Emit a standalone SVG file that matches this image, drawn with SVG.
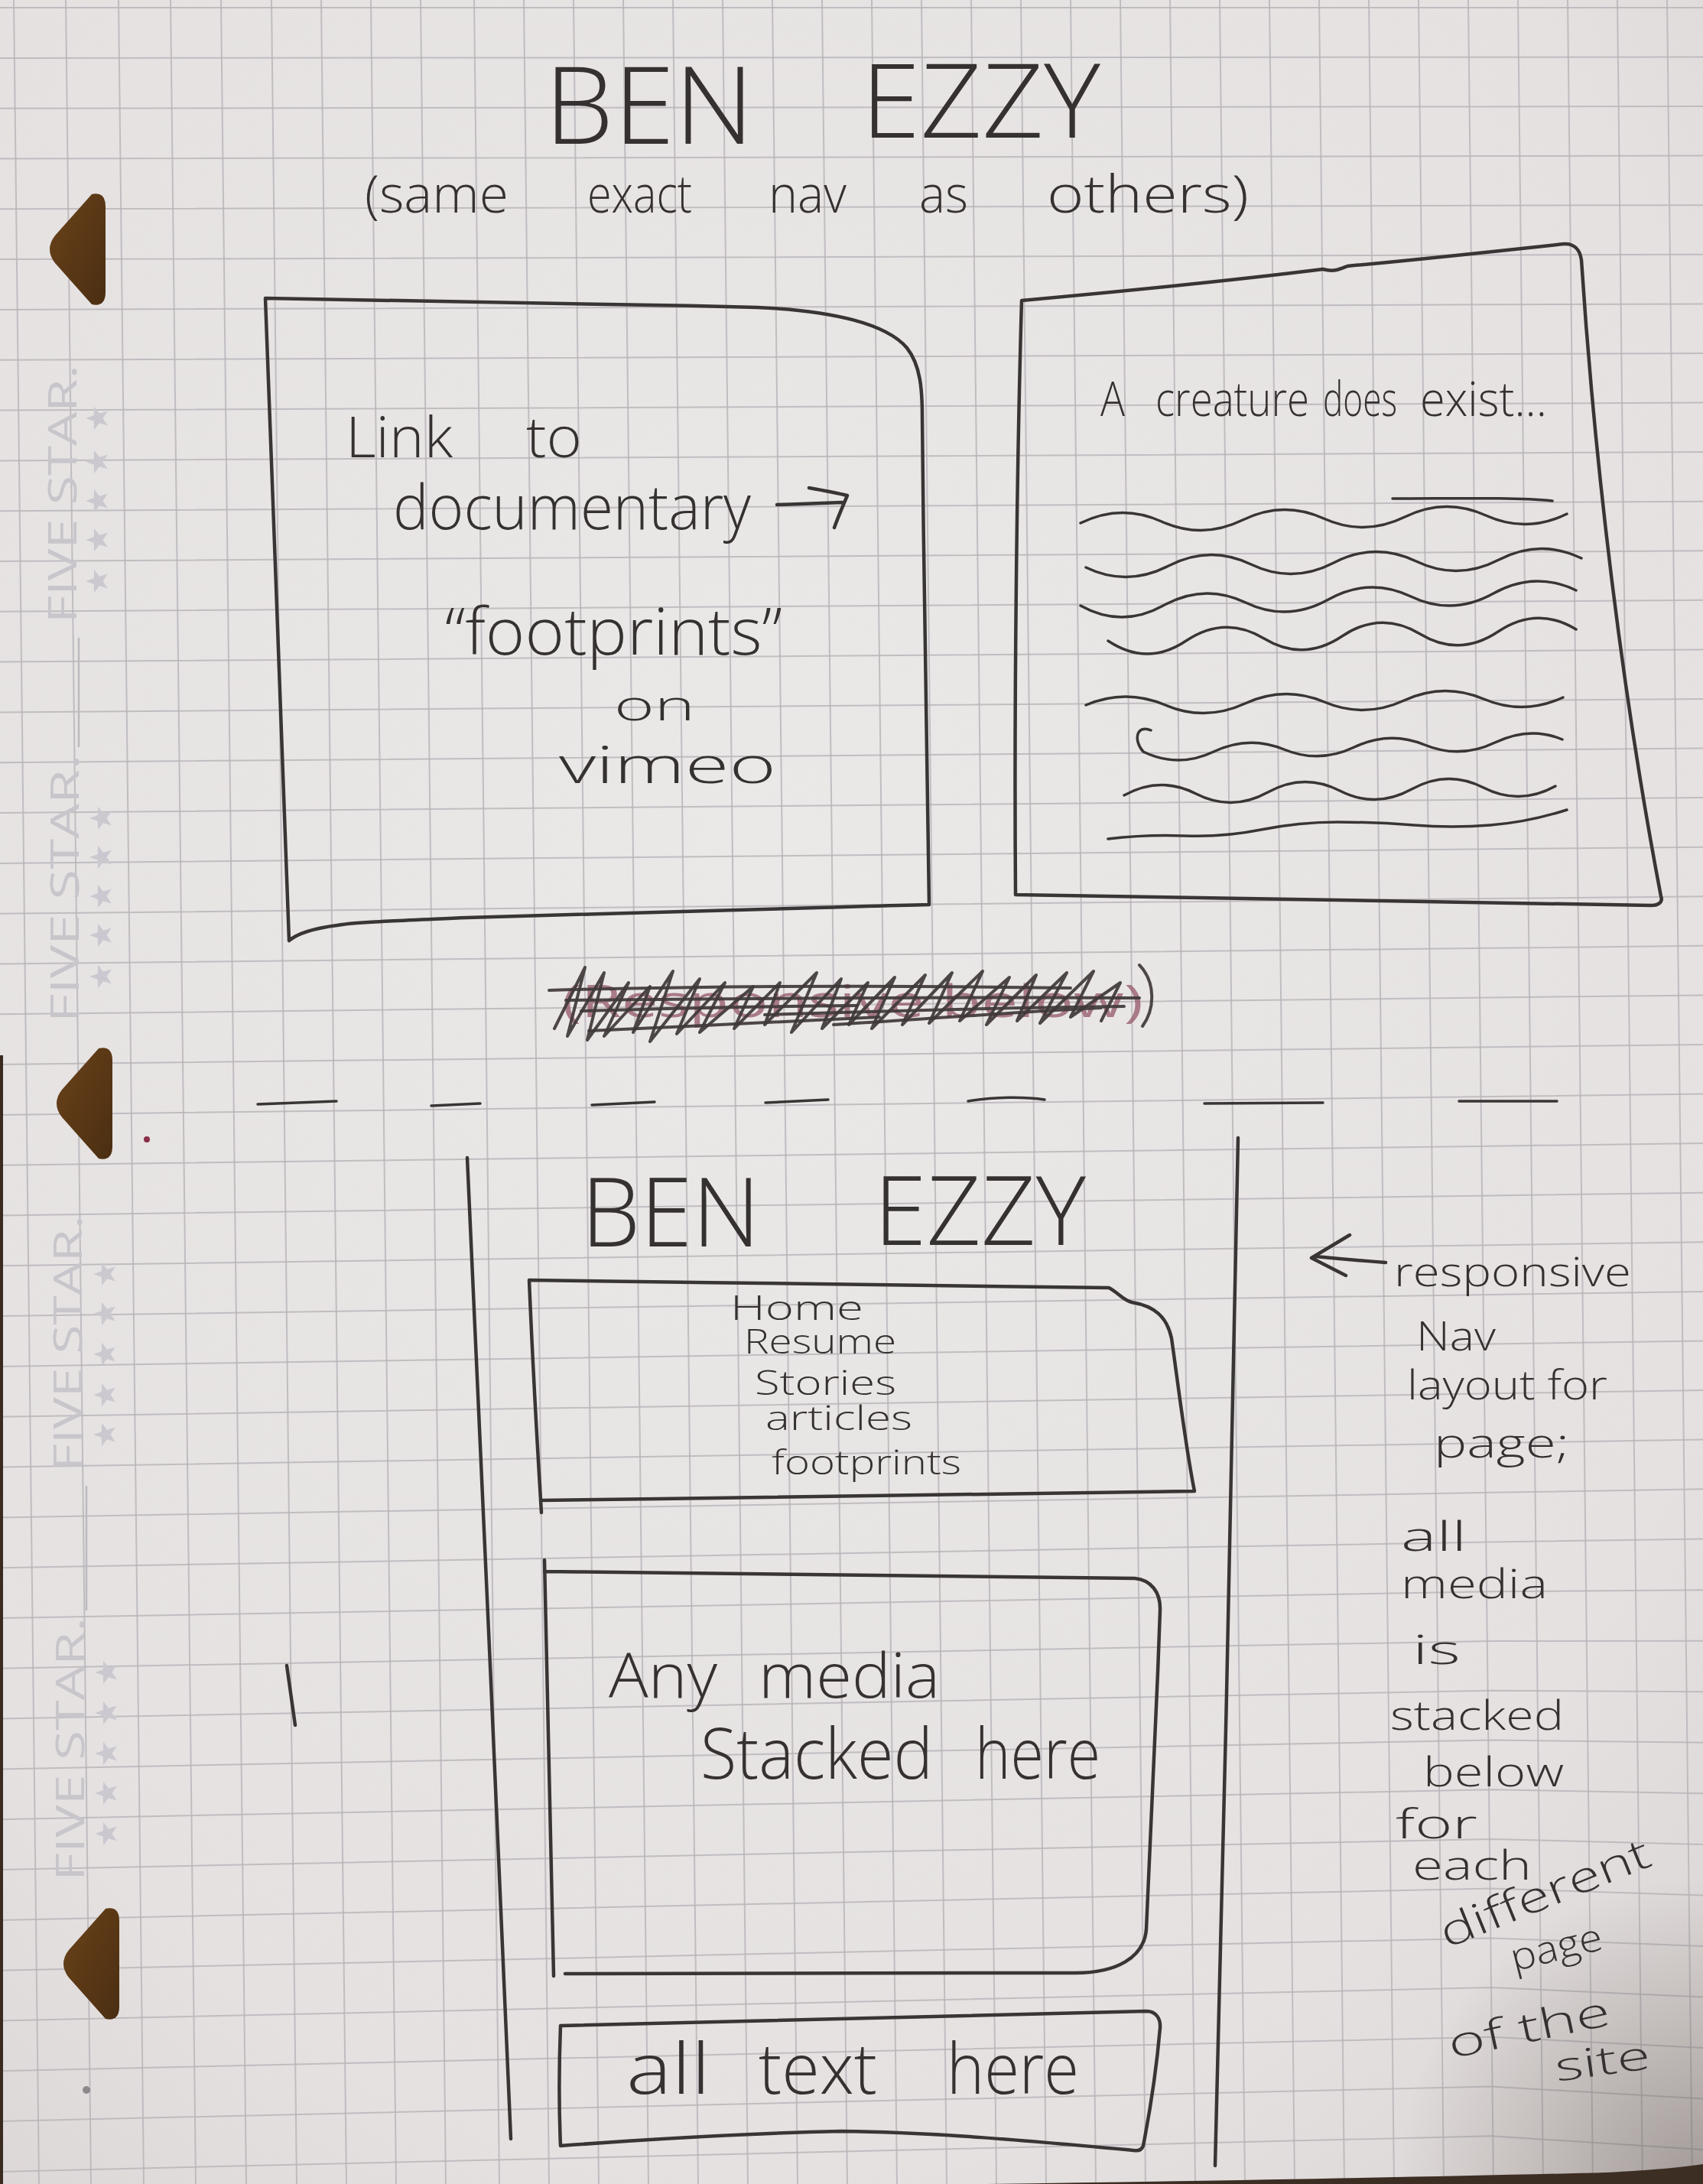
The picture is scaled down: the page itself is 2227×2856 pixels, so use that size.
<svg xmlns="http://www.w3.org/2000/svg" xmlns:xlink="http://www.w3.org/1999/xlink" width="2227" height="2856" viewBox="0 0 2227 2856">
  <defs>
    <radialGradient id="paper" cx="0.45" cy="0.4" r="0.85">
      <stop offset="0" stop-color="#ebe8e8"/>
      <stop offset="0.7" stop-color="#e5e1e1"/>
      <stop offset="1" stop-color="#d8d2d1"/>
    </radialGradient>
    <radialGradient id="cornerShade" cx="1" cy="1" r="1">
      <stop offset="0" stop-color="#3c3028" stop-opacity="0.35"/>
      <stop offset="1" stop-color="#3c3028" stop-opacity="0"/>
    </radialGradient>
    <linearGradient id="holeFill" x1="0" y1="0" x2="1" y2="1">
      <stop offset="0" stop-color="#6a4219"/>
      <stop offset="1" stop-color="#4a2e12"/>
    </linearGradient>
    <path id="hole" d="M 62 2 Q 80 -2 80 18 L 80 130 Q 80 150 62 146 L 14 92 Q 0 74 14 56 Z"/>
    <path id="star" d="M0,-16 L3.8,-5.3 L15.2,-4.9 L6.2,2 L9.4,12.9 L0,6.5 L-9.4,12.9 L-6.2,2 L-15.2,-4.9 L-3.8,-5.3 Z"/>
    <style>
      .grid { fill: none; stroke: #b7b3b8; stroke-width: 2; opacity: 0.8; }
      .ink { fill: none; stroke: #3a3535; stroke-width: 4.5; stroke-linecap: round; stroke-linejoin: round; }
      .thin { stroke-width: 3.5; }
      .hand { font-family: "Open Sans", "Lato", "DejaVu Sans", sans-serif; font-weight: 300; fill: #363131; }
      .brand { font-family: "Open Sans", "Liberation Sans", sans-serif; font-weight: 400; fill: #c8c5cb; font-size: 52px; }
      .brandstar { fill: #cbc8d0; }
      .scrib { fill: none; stroke: #3f3838; stroke-width: 4; stroke-linecap: round; stroke-linejoin: round; opacity: 0.92; }
    </style>
  </defs>

  <!-- paper and grid -->
  <rect width="2227" height="2856" fill="url(#paper)"/>
  <path class="grid" d="M 18 0 l 33 2856 M 86 0 l 33 2856 M 155 0 l 33 2856 M 223 0 l 33 2856 M 289 0 l 33 2856 M 355 0 l 33 2856 M 420 0 l 33 2856 M 485 0 l 33 2856 M 550 0 l 33 2856 M 620 0 l 33 2856 M 685 0 l 33 2856 M 750 0 l 33 2856 M 815 0 l 33 2856 M 880 0 l 33 2856 M 945 0 l 33 2856 M 1010 0 l 33 2856 M 1075 0 l 33 2856 M 1140 0 l 33 2856 M 1205 0 l 33 2856 M 1270 0 l 33 2856 M 1335 0 l 33 2856 M 1400 0 l 33 2856 M 1465 0 l 33 2856 M 1530 0 l 33 2856 M 1595 0 l 33 2856 M 1660 0 l 33 2856 M 1725 0 l 33 2856 M 1790 0 l 33 2856 M 1855 0 l 33 2856 M 1920 0 l 33 2856 M 1985 0 l 33 2856 M 2050 0 l 33 2856 M 2115 0 l 33 2856 M 2180 0 l 33 2856"/>
  <path class="grid" d="M 0 10.1 L 1950 9.9 L 2227 9.9 M 0 75.9 L 1950 74.7 L 2227 74.5 M 0 141.7 L 1950 139.4 L 2227 139.1 M 0 207.5 L 1950 204.1 L 2227 203.6 M 0 273.3 L 1950 268.8 L 2227 268.2 M 0 339.1 L 1950 333.6 L 2227 332.8 M 0 404.9 L 1950 398.3 L 2227 397.4 M 0 470.8 L 1950 463 L 2227 461.9 M 0 536.6 L 1950 527.8 L 2227 526.5 M 0 602.4 L 1950 592.5 L 2227 591.1 M 0 668.2 L 1950 657.2 L 2227 655.7 M 0 734 L 1950 721.9 L 2227 720.2 M 0 799.8 L 1950 786.7 L 2227 784.8 M 0 865.6 L 1950 851.4 L 2227 849.4 M 0 931.4 L 1950 916.1 L 2227 914 M 0 997.2 L 1950 980.9 L 2227 978.5 M 0 1063 L 1950 1045.6 L 2227 1043.1 M 0 1128.9 L 1950 1110.3 L 2227 1107.7 M 0 1194.7 L 1950 1175.1 L 2227 1172.3 M 0 1260.5 L 1950 1239.8 L 2227 1236.8 M 0 1326.3 L 1950 1304.5 L 2227 1301.4 M 0 1392.1 L 1950 1369.2 L 2227 1366 M 0 1457.9 L 1950 1434 L 2227 1430.6 M 0 1523.7 L 1950 1498.7 L 2227 1495.1 M 0 1589.5 L 1950 1563.4 L 2227 1559.7 M 0 1655.3 L 1950 1628.2 L 2227 1624.3 M 0 1721.1 L 1950 1692.9 L 2227 1688.9 M 0 1786.9 L 1950 1757.6 L 2227 1753.4 M 0 1852.8 L 1950 1822.3 L 2227 1818 M 0 1918.6 L 1950 1887.1 L 2227 1882.6 M 0 1984.4 L 1950 1951.8 L 2227 1947.2 M 0 2050.2 L 1950 2016.5 L 2227 2012.6 M 0 2116 L 1950 2081.3 L 2227 2079.2 M 0 2181.8 L 1950 2146 L 2227 2145.7 M 0 2247.6 L 1950 2210.7 L 2227 2212.3 M 0 2313.4 L 1950 2275.4 L 2227 2278.8 M 0 2379.2 L 1950 2340.2 L 2227 2345.3 M 0 2445 L 1950 2404.9 L 2227 2411.9 M 0 2510.9 L 1950 2469.6 L 2227 2478.4 M 0 2576.7 L 1950 2534.4 L 2227 2544.9 M 0 2642.5 L 1950 2599.1 L 2227 2611.4 M 0 2708.3 L 1950 2663.8 L 2227 2678 M 0 2774.1 L 1950 2728.5 L 2227 2744.6 M 0 2839.9 L 1950 2793.3 L 2227 2811"/>
  <rect x="1827" y="2456" width="400" height="400" fill="url(#cornerShade)"/>
  <rect x="0" y="1380" width="4" height="1476" fill="#3a2a20"/>
  <path d="M 1290 2856 C 1600 2852 1900 2846 2100 2841 C 2160 2838 2200 2834 2227 2830 L 2227 2856 Z" fill="#3d2e24"/>

  <!-- binder holes -->
  <g id="holes" fill="url(#holeFill)">
    <use href="#hole" transform="translate(58,252)"/>
    <use href="#hole" transform="translate(67,1369)"/>
    <use href="#hole" transform="translate(76,2494)"/>
  </g>

  <!-- printed margin brand -->
  <g id="margin-brand">
    <text class="brand" transform="translate(100,815) rotate(-90)" textLength="338" lengthAdjust="spacingAndGlyphs">FIVE STAR.</text>
    <text class="brand" transform="translate(103,1337) rotate(-90)" textLength="350" lengthAdjust="spacingAndGlyphs">FIVE STAR.</text>
    <text class="brand" transform="translate(107,1924) rotate(-90)" textLength="335" lengthAdjust="spacingAndGlyphs">FIVE STAR.</text>
    <text class="brand" transform="translate(110,2460) rotate(-90)" textLength="345" lengthAdjust="spacingAndGlyphs">FIVE STAR.</text>
    <g class="brandstar">
      <use href="#star" transform="translate(128,547) rotate(-90)"/>
      <use href="#star" transform="translate(128,604) rotate(-90)"/>
      <use href="#star" transform="translate(128,655) rotate(-90)"/>
      <use href="#star" transform="translate(128,706) rotate(-90)"/>
      <use href="#star" transform="translate(128,760) rotate(-90)"/>
      <use href="#star" transform="translate(133,1070) rotate(-90)"/>
      <use href="#star" transform="translate(133,1121) rotate(-90)"/>
      <use href="#star" transform="translate(133,1172) rotate(-90)"/>
      <use href="#star" transform="translate(133,1223) rotate(-90)"/>
      <use href="#star" transform="translate(133,1277) rotate(-90)"/>
      <use href="#star" transform="translate(138,1666) rotate(-90)"/>
      <use href="#star" transform="translate(138,1718) rotate(-90)"/>
      <use href="#star" transform="translate(138,1771) rotate(-90)"/>
      <use href="#star" transform="translate(138,1824) rotate(-90)"/>
      <use href="#star" transform="translate(138,1876) rotate(-90)"/>
      <use href="#star" transform="translate(140,2187) rotate(-90)"/>
      <use href="#star" transform="translate(140,2240) rotate(-90)"/>
      <use href="#star" transform="translate(140,2293) rotate(-90)"/>
      <use href="#star" transform="translate(140,2345) rotate(-90)"/>
      <use href="#star" transform="translate(140,2398) rotate(-90)"/>
    </g>
    <path d="M 103 834 V 977 M 113 1943 V 2106" stroke="#bdbac0" stroke-width="2.5" fill="none"/>
    <circle cx="192" cy="1490" r="4" fill="#8a3048"/>
    <circle cx="113" cy="2733" r="5" fill="#6a6468" opacity="0.7"/>
  </g>

  <!-- desktop layout -->
  <g id="title">
    <text class="hand" x="712" y="188" font-size="140" textLength="274" lengthAdjust="spacingAndGlyphs">BEN</text>
    <text class="hand" x="1126" y="180" font-size="135" textLength="313" lengthAdjust="spacingAndGlyphs">EZZY</text>
  </g>

  <g id="subtitle">
    <text class="hand" font-size="68" y="278">
      <tspan x="477" textLength="188" lengthAdjust="spacingAndGlyphs">(same</tspan>
      <tspan x="768" textLength="137" lengthAdjust="spacingAndGlyphs">exact</tspan>
      <tspan x="1005" textLength="102" lengthAdjust="spacingAndGlyphs">nav</tspan>
      <tspan x="1202" textLength="64" lengthAdjust="spacingAndGlyphs">as</tspan>
      <tspan x="1369" textLength="264" lengthAdjust="spacingAndGlyphs">others)</tspan>
    </text>
  </g>

  <g id="video-box">
    <path class="ink" d="M 347 390 C 520 394 760 396 990 402 C 1090 406 1160 424 1186 455 C 1204 478 1206 510 1206 545 C 1208 760 1212 980 1215 1183 C 1160 1184 1110 1186 1069 1187 C 900 1192 700 1196 610 1200 C 520 1204 460 1206 441 1210 C 410 1214 390 1220 378 1230 C 368 1000 358 650 347 390 Z"/>
    <text class="hand" font-size="74" y="598">
      <tspan x="452" textLength="140" lengthAdjust="spacingAndGlyphs">Link</tspan>
      <tspan x="688" textLength="73" lengthAdjust="spacingAndGlyphs">to</tspan>
    </text>
    <text class="hand" font-size="82" x="514" y="692" textLength="468" lengthAdjust="spacingAndGlyphs">documentary</text>
    <text class="hand" font-size="84" x="582" y="856" textLength="441" lengthAdjust="spacingAndGlyphs">“footprints”</text>
    <text class="hand" font-size="56" x="803" y="942" textLength="106" lengthAdjust="spacingAndGlyphs">on</text>
    <text class="hand" font-size="66" x="731" y="1024" textLength="284" lengthAdjust="spacingAndGlyphs">vimeo</text>
  </g>

  <g id="story-text-box">
    <path class="ink" d="M 1336 393 C 1500 378 1650 362 1730 352 C 1745 356 1752 352 1762 348 C 1870 338 1980 326 2045 319 C 2058 318 2066 326 2068 340 C 2085 600 2120 900 2172 1172 C 2175 1180 2168 1184 2160 1184 C 1880 1180 1600 1175 1328 1170 C 1326 900 1330 600 1336 393 Z"/>
    <text class="hand" font-size="62" y="544">
      <tspan x="1439" textLength="32" lengthAdjust="spacingAndGlyphs">A</tspan>
      <tspan x="1511" textLength="201" lengthAdjust="spacingAndGlyphs">creature</tspan>
      <tspan x="1730" textLength="97" lengthAdjust="spacingAndGlyphs">does</tspan>
      <tspan x="1857" textLength="166" lengthAdjust="spacingAndGlyphs">exist...</tspan>
    </text>
    <g class="ink thin">
      <path d="M 1821 652 C 1900 652 1980 650 2030 655"/>
      <path d="M 1413 684 q 53 -26 106 -2 t 106 -2 t 106 -2 t 106 -2 t 106 -2 t 106 -2"/>
      <path d="M 1420 742 q 54 26 108 -2 t 108 -2 t 108 -2 t 108 -2 t 108 -2 t 108 -2"/>
      <path d="M 1413 792 q 54 30 108 0 t 108 -4 t 108 -4 t 108 -4 t 108 -4 t 108 -4"/>
      <path d="M 1449 838 q 51 34 102 0 t 102 -3 t 102 -3 t 102 -3 t 102 -3 t 102 -3"/>
      <path d="M 1420 922 q 52 -22 104 0 t 104 -2 t 104 -2 t 104 -2 t 104 -2 t 104 -2"/>
      <path d="M 1505 955 c -18 -8 -24 12 -10 28 q 46 22 92 0 t 92 -3 t 92 -3 t 92 -3 t 92 -3 t 88 -4"/>
      <path d="M 1470 1040 q 47 -26 94 -2 t 94 -2 t 94 -2 t 94 -2 t 94 -2 t 94 -2"/>
      <path d="M 1449 1097 q 50 -6 100 -4 t 100 -8 t 100 -10 t 100 4 t 100 0 t 100 -20"/>
    </g>
  </g>

  <g id="struck-note">
    <text x="735" y="1330" font-family="Open Sans, Liberation Sans, sans-serif" font-size="58" fill="#9a6070" opacity="0.8" textLength="760" lengthAdjust="spacingAndGlyphs">(Responsive below)</text>
    <path class="scrib" d="M 725 1345 L 765 1265 L 742 1355 L 790 1272 L 768 1360 L 822 1285 L 790 1355 L 850 1290 L 828 1350 L 880 1270 L 850 1362 L 915 1280 L 885 1352 L 948 1285 L 915 1350 L 985 1290 L 960 1345 L 1020 1285 L 1000 1340 L 1068 1272 L 1035 1350 L 1100 1280 L 1075 1345 L 1135 1285 L 1110 1340 L 1170 1278 L 1140 1345 L 1210 1275 L 1180 1340 L 1245 1272 L 1215 1338 L 1285 1270 L 1255 1335 L 1320 1278 L 1290 1340 L 1355 1275 L 1330 1335 L 1395 1272 L 1360 1338 L 1430 1270 L 1400 1330 L 1465 1285 L 1440 1335"/>
    <path class="scrib" d="M 718 1295 C 900 1290 1150 1288 1400 1292 M 740 1308 C 1000 1306 1250 1303 1490 1305 M 1000 1327 C 1150 1322 1300 1318 1470 1316 M 770 1348 C 900 1342 1050 1335 1150 1330 M 1090 1340 C 1250 1330 1350 1322 1440 1318 M 760 1322 C 900 1318 1000 1316 1120 1315 M 1490 1262 C 1512 1285 1510 1320 1494 1342"/>
  </g>

  <!-- divider between desktop and mobile -->
  <g id="divider" class="ink thin">
    <path d="M 337 1444 L 440 1440"/>
    <path d="M 564 1446 L 628 1443"/>
    <path d="M 774 1445 L 856 1441"/>
    <path d="M 1001 1442 L 1083 1438"/>
    <path d="M 1266 1440 C 1300 1434 1340 1434 1366 1438"/>
    <path d="M 1575 1443 L 1730 1442"/>
    <path d="M 1908 1440 L 2036 1440"/>
  </g>

  <!-- mobile layout -->
  <g id="mobile-frame" class="ink">
    <path d="M 611 1514 C 630 1900 650 2400 668 2797"/>
    <path d="M 1619 1488 C 1612 1900 1600 2400 1589 2832"/>
    <path d="M 375 2178 L 386 2256"/>
  </g>

  <g id="mobile-title">
    <text class="hand" x="760" y="1630" font-size="125" textLength="234" lengthAdjust="spacingAndGlyphs">BEN</text>
    <text class="hand" x="1143" y="1628" font-size="125" textLength="277" lengthAdjust="spacingAndGlyphs">EZZY</text>
  </g>

  <g id="nav-box">
    <path class="ink" d="M 708 1978 C 702 1880 696 1770 692 1674 C 950 1678 1250 1680 1450 1684 C 1462 1690 1468 1700 1480 1703 C 1510 1708 1526 1722 1532 1750 C 1542 1820 1550 1890 1562 1950 C 1300 1954 1000 1958 708 1962"/>
    <text class="hand" font-size="44">
      <tspan x="955" y="1726" textLength="174" lengthAdjust="spacingAndGlyphs">Home</tspan>
      <tspan x="973" y="1770" textLength="199" lengthAdjust="spacingAndGlyphs">Resume</tspan>
      <tspan x="987" y="1824" textLength="185" lengthAdjust="spacingAndGlyphs">Stories</tspan>
      <tspan x="1001" y="1870" textLength="192" lengthAdjust="spacingAndGlyphs">articles</tspan>
      <tspan x="1009" y="1928" textLength="248" lengthAdjust="spacingAndGlyphs">footprints</tspan>
    </text>
  </g>

  <g id="media-stack">
    <path class="ink" d="M 712 2040 C 716 2220 720 2400 724 2584 M 712 2055 C 980 2058 1250 2062 1484 2064 C 1505 2066 1518 2082 1517 2106 C 1512 2250 1505 2400 1499 2523 C 1496 2560 1460 2580 1406 2580 C 1180 2580 950 2581 739 2581"/>
    <text class="hand" font-size="82" y="2220">
      <tspan x="796" textLength="142" lengthAdjust="spacingAndGlyphs">Any</tspan>
      <tspan x="992" textLength="237" lengthAdjust="spacingAndGlyphs">media</tspan>
    </text>
    <text class="hand" font-size="92" y="2326">
      <tspan x="916" textLength="304" lengthAdjust="spacingAndGlyphs">Stacked</tspan>
      <tspan x="1275" textLength="164" lengthAdjust="spacingAndGlyphs">here</tspan>
    </text>
  </g>

  <g id="text-box">
    <path class="ink" d="M 733 2649 C 1000 2642 1250 2636 1499 2630 C 1512 2630 1518 2640 1517 2652 C 1512 2710 1502 2770 1495 2806 C 1493 2812 1488 2813 1482 2812 C 1350 2800 1220 2788 1100 2787 C 960 2790 840 2798 733 2806 C 731 2760 731 2700 733 2649 Z"/>
    <text class="hand" font-size="92" y="2738">
      <tspan x="819" textLength="110" lengthAdjust="spacingAndGlyphs">all</tspan>
      <tspan x="992" textLength="155" lengthAdjust="spacingAndGlyphs">text</tspan>
      <tspan x="1238" textLength="173" lengthAdjust="spacingAndGlyphs">here</tspan>
    </text>
  </g>

  <g id="mobile-note">
    <text class="hand" font-size="54">
      <tspan x="1823" y="1682" textLength="310" lengthAdjust="spacingAndGlyphs">responsive</tspan>
      <tspan x="1852" y="1766" textLength="104" lengthAdjust="spacingAndGlyphs">Nav</tspan>
      <tspan x="1840" y="1830" textLength="262" lengthAdjust="spacingAndGlyphs">layout for</tspan>
      <tspan x="1875" y="1906" textLength="177" lengthAdjust="spacingAndGlyphs">page;</tspan>
      <tspan x="1832" y="2028" textLength="86" lengthAdjust="spacingAndGlyphs">all</tspan>
      <tspan x="1832" y="2090" textLength="192" lengthAdjust="spacingAndGlyphs">media</tspan>
      <tspan x="1847" y="2176" textLength="63" lengthAdjust="spacingAndGlyphs">is</tspan>
      <tspan x="1818" y="2262" textLength="227" lengthAdjust="spacingAndGlyphs">stacked</tspan>
      <tspan x="1861" y="2336" textLength="184" lengthAdjust="spacingAndGlyphs">below</tspan>
      <tspan x="1825" y="2404" textLength="107" lengthAdjust="spacingAndGlyphs">for</tspan>
      <tspan x="1847" y="2458" textLength="156" lengthAdjust="spacingAndGlyphs">each</tspan>
    </text>
    <text class="hand" font-size="56" transform="translate(1892,2548) rotate(-22)" textLength="292" lengthAdjust="spacingAndGlyphs">different</text>
    <text class="hand" font-size="50" transform="translate(1980,2578) rotate(-14)" textLength="122" lengthAdjust="spacingAndGlyphs">page</text>
    <text class="hand" font-size="54" transform="translate(1898,2692) rotate(-12)" textLength="215" lengthAdjust="spacingAndGlyphs">of the</text>
    <text class="hand" font-size="52" transform="translate(2036,2722) rotate(-8)" textLength="125" lengthAdjust="spacingAndGlyphs">site</text>
  </g>

  <!-- pointer strokes -->
  <g id="connectors" class="ink">
    <path d="M 1016 660 C 1045 659 1075 658 1101 657 M 1058 638 C 1075 641 1092 644 1108 648 C 1102 662 1096 676 1091 690"/>
    <path d="M 1765 1615 L 1715 1645 L 1760 1668 M 1720 1643 C 1750 1646 1785 1649 1812 1651"/>
  </g>
</svg>
